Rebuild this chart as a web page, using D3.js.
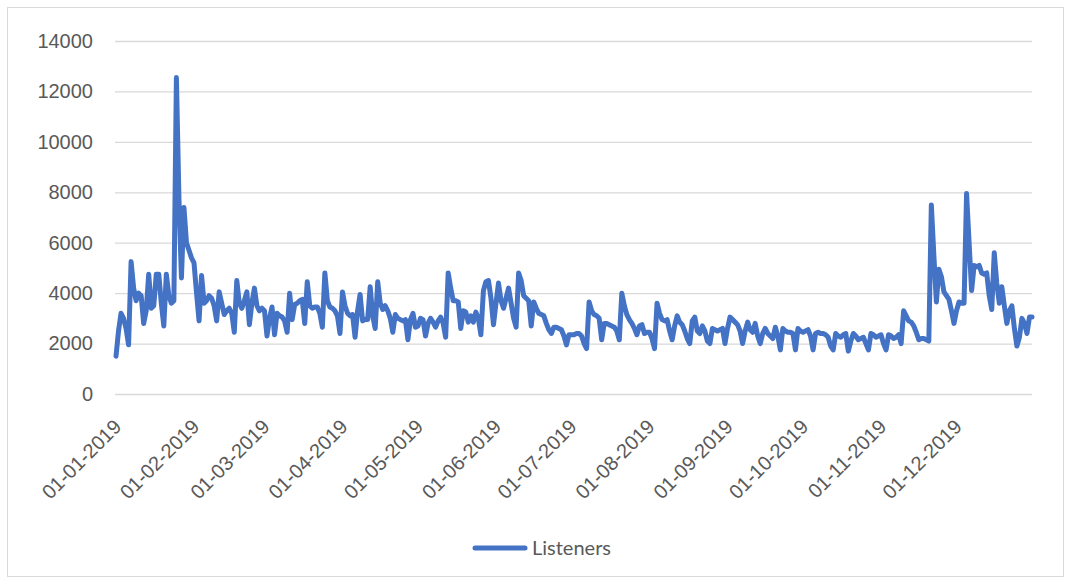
<!DOCTYPE html>
<html>
<head>
<meta charset="utf-8">
<script src="https://cdn.jsdelivr.net/npm/d3@7/dist/d3.min.js"></script>
<style>
  html, body { margin: 0; padding: 0; background: #fff; }
  svg { display: block; font-family: Lato, "Open Sans", sans-serif; }
</style>
</head>
<body>
<svg id="chart--listeners" width="1071" height="584"></svg>
<script>
// ----- Data -----------------------------------------------------------------
var YEAR = 2019;
var SERIES_NAME = 'Listeners';

var JAN = [1500, 2500, 3200, 3000, 2600, 1950, 5250, 4200, 3700, 4000, 3900, 2800, 3300, 4750, 3400, 3500,
  4750, 4750, 3600, 2700, 4750, 3900, 3600, 3700, 12550, 7800, 4600, 7400, 6000, 5700, 5400];
var FEB = [5200, 4000, 2900, 4700, 3600, 3700, 3900, 3800, 3500, 2900, 4050, 3600, 3150, 3300, 3400, 3200,
  2450, 4500, 3600, 3400, 3700, 4050, 2750, 3600, 4200, 3500, 3300, 3400];
var MAR = [3300, 2300, 3000, 3450, 2350, 3200, 3100, 3050, 2900, 2450, 4000, 2950, 3550, 3600, 3700, 3750,
  2800, 4450, 3500, 3400, 3450, 3450, 3200, 2650, 4800, 3700, 3450, 3400, 3300, 3100, 2400];
var APR = [4050, 3500, 3200, 3100, 3150, 2250, 3300, 3950, 2900, 2950, 2950, 4250, 3100, 2600, 4450, 3600,
  3350, 3500, 3300, 3000, 2450, 3150, 3000, 2950, 2900, 2950, 2150, 2950, 3200, 2650];
var MAY = [2700, 3000, 2950, 2300, 2800, 3000, 2850, 2650, 2900, 3050, 2800, 2250, 4800, 4200, 3700, 3700,
  3650, 2600, 3300, 3250, 2850, 3100, 2850, 3250, 3000, 2350, 4100, 4450, 4500, 3800, 2750];
var JUN = [3600, 4400, 3700, 3400, 3800, 4200, 3600, 3000, 2650, 4800, 4500, 3900, 3800, 3700, 2700, 3650,
  3400, 3200, 3150, 3100, 2800, 2550, 2400, 2650, 2650, 2600, 2550, 2300, 1950, 2350];
var JUL = [2350, 2350, 2400, 2400, 2300, 2000, 1800, 3650, 3300, 3150, 3100, 3000, 2150, 2800, 2800, 2750,
  2700, 2650, 2500, 2150, 4000, 3500, 3150, 2950, 2800, 2600, 2350, 2700, 2750, 2400, 2450];
var AUG = [2450, 2200, 1800, 3600, 3200, 2950, 2900, 2950, 2500, 2150, 2700, 3100, 2850, 2750, 2500, 2200,
  2000, 2900, 3050, 2500, 2400, 2700, 2500, 2100, 2000, 2600, 2550, 2500, 2550, 2600, 2000];
var SEP = [2600, 3050, 2950, 2850, 2750, 2500, 2000, 2500, 2850, 2550, 2450, 2800, 2300, 2000, 2400, 2600,
  2400, 2300, 2200, 2650, 2300, 1750, 2600, 2500, 2450, 2450, 2400, 1750, 2600, 2500];
var OCT = [2450, 2500, 2550, 2300, 1750, 2400, 2450, 2400, 2400, 2350, 2250, 1900, 1750, 2400, 2300, 2250,
  2350, 2400, 1700, 2100, 2400, 2300, 2150, 2200, 2250, 2000, 1750, 2400, 2350, 2250, 2300];
var NOV = [2350, 2000, 1750, 2350, 2300, 2200, 2250, 2350, 2000, 3300, 3100, 2900, 2850, 2700, 2450, 2150,
  2200, 2200, 2150, 2100, 7500, 5500, 3650, 4950, 4650, 4050, 3900, 3750, 3300, 2800];
var DEC = [3300, 3650, 3600, 3600, 7950, 6000, 4100, 5100, 5050, 5100, 4800, 4750, 4800, 3900, 3350, 5600,
  4400, 3600, 4250, 3500, 2800, 3300, 3500, 2600, 1900, 2250, 3000, 2800, 2400, 3050, 3050];

var MONTHS = [JAN, FEB, MAR, APR, MAY, JUN, JUL, AUG, SEP, OCT, NOV, DEC];
var MONTH_LABELS = ['01-01-2019', '01-02-2019', '01-03-2019', '01-04-2019', '01-05-2019', '01-06-2019',
  '01-07-2019', '01-08-2019', '01-09-2019', '01-10-2019', '01-11-2019', '01-12-2019'];
var Y_TICKS = [0, 2000, 4000, 6000, 8000, 10000, 12000, 14000];

var LINE_COLOR = '#4472C4';
var TEXT_COLOR = '#595959';
var GRID_COLOR = '#D9D9D9';

// ----- SVG Setup ------------------------------------------------------------
var svg = d3.select('#chart--listeners');

// daily rows built from the monthly arrays
var data = [];
MONTHS.forEach(function(values, m) {
  values.forEach(function(v, i) {
    data.push({ date: new Date(YEAR, m, i + 1), value: v });
  });
});

var x = d3.scaleTime()
  .domain([new Date(YEAR, 0, 1), new Date(YEAR, 11, 31)])
  .range([116, 1032]);
var y = d3.scaleLinear().domain([0, 14000]).range([394, 41]);

// chart area border
svg.append('rect')
    .attr('x', 7.5).attr('y', 7.5)
    .attr('width', 1056).attr('height', 569)
    .attr('fill', 'none')
    .attr('stroke', GRID_COLOR)
    .attr('stroke-width', 1);

// ----- Axes -----------------------------------------------------------------
var yAxis = svg.append('g')
    .attr('class', 'y axis')
    .attr('transform', 'translate(115,0)')
    .call(d3.axisLeft(y).tickValues(Y_TICKS).tickSize(-917).tickPadding(22)
      .tickFormat(d3.format('d')));

yAxis.select('.domain').remove();
yAxis.selectAll('.tick line').attr('stroke', GRID_COLOR).attr('stroke-width', 1.3);
yAxis.selectAll('.tick text')
    .attr('fill', TEXT_COLOR)
    .style('font-size', '20px');

var monthStarts = MONTH_LABELS.map(function(d, i) { return new Date(YEAR, i, 1); });

var xAxis = svg.append('g')
    .attr('class', 'x axis')
    .attr('transform', 'translate(0,394)')
    .call(d3.axisBottom(x).tickValues(monthStarts).tickSize(0)
      .tickFormat(function(d, i) { return MONTH_LABELS[i]; }));

xAxis.select('.domain').remove();
xAxis.selectAll('.tick text')
    .attr('fill', TEXT_COLOR)
    .style('font-size', '20px')
    .attr('text-anchor', 'end')
    .attr('dy', 0)
    .attr('transform', 'translate(6,34) rotate(-45)')
    .attr('y', 0);

// ----- Line -----------------------------------------------------------------
var line = d3.line()
  .x(function(d) { return x(d.date); })
  .y(function(d) { return y(d.value); });

svg.append('path')
    .datum(data)
    .attr('fill', 'none')
    .attr('stroke', LINE_COLOR)
    .attr('stroke-width', 5)
    .attr('stroke-linejoin', 'round')
    .attr('stroke-linecap', 'round')
    .attr('d', line);

// ----- Legend ---------------------------------------------------------------
var legend = svg.append('g').attr('transform', 'translate(475,548)');
legend.append('line')
    .attr('x1', 0).attr('x2', 50)
    .attr('stroke', LINE_COLOR)
    .attr('stroke-width', 5)
    .attr('stroke-linecap', 'round');
legend.append('text')
    .attr('x', 57)
    .attr('dy', '0.35em')
    .attr('fill', TEXT_COLOR)
    .style('font-size', '20px')
    .text(SERIES_NAME);
</script>
</body>
</html>
